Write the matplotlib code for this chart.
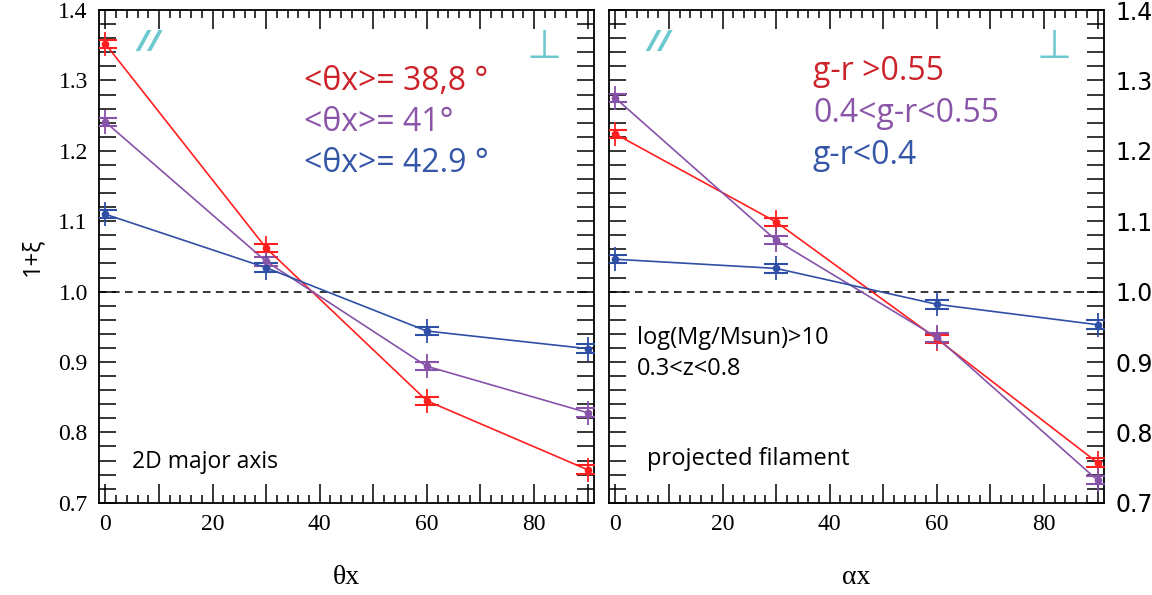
import matplotlib
matplotlib.use('Agg')
import matplotlib.pyplot as plt
import matplotlib.ticker as ticker
import numpy as np

# angle bins
angles = [0, 30, 60, 90]

# left panel: 2D major axis, split by mean theta
left_red = [1.352, 1.062, 0.845, 0.747]
left_purple = [1.241, 1.043, 0.894, 0.828]
left_blue = [1.110, 1.034, 0.944, 0.919]

# right panel: projected filament, split by colour g-r
right_red = [1.224, 1.099, 0.933, 0.757]
right_purple = [1.275, 1.073, 0.935, 0.732]
right_blue = [1.046, 1.033, 0.982, 0.953]

left_labels = ['<θx>= 38,8 °', '<θx>= 41°', '<θx>= 42.9 °']
right_labels = ['g-r >0.55', '0.4<g-r<0.55', 'g-r<0.4']

line_cols = ['#ff1f1f', '#8752a8', '#2f4fa6']
text_cols = ['#cc2229', '#8a55a8', '#3456a6']
cyan = '#6cc9cf'

sans = ['Open Sans', 'DejaVu Sans']
serif = 'Liberation Serif'

fig = plt.figure(figsize=(11.52, 5.95), dpi=100)
ax1 = fig.add_axes([0.0859, 0.155, 0.4297, 0.828])
ax2 = fig.add_axes([0.5286, 0.155, 0.4297, 0.828])


def draw_panel(ax, series):
    for y, c in zip(series, line_cols):
        ax.errorbar(angles, y, yerr=0.017, fmt='none', ecolor=c, elinewidth=1.3, zorder=3)
        ax.errorbar(angles, y, yerr=0.006, fmt='none', ecolor=c, elinewidth=0,
                    capsize=8.5, capthick=1.5, zorder=3)
        ax.plot(angles, y, '-o', color=c, lw=1.2, ms=4.5, zorder=4)
    ax.axhline(1.0, color='black', ls=(0, (5, 3.5)), lw=1.1, zorder=2)
    ax.set_xlim(-1.2, 91.2)
    ax.set_ylim(0.7, 1.4)
    ax.xaxis.set_major_locator(ticker.MultipleLocator(10))
    ax.xaxis.set_minor_locator(ticker.MultipleLocator(2))
    ax.xaxis.set_major_formatter(ticker.FuncFormatter(
        lambda v, p: '%d' % v if int(round(v)) % 20 == 0 else ''))
    ax.yaxis.set_major_locator(ticker.MultipleLocator(0.1))
    ax.yaxis.set_minor_locator(ticker.MultipleLocator(0.02))
    ax.yaxis.set_major_formatter(ticker.FormatStrFormatter('%.1f'))
    ax.tick_params(which='both', direction='in', top=True, right=True, width=1.1,
                   labelsize=17, pad=8)
    ax.tick_params(axis='x', which='major', length=13.5)
    ax.tick_params(axis='x', which='minor', length=6)
    ax.tick_params(axis='y', which='both', length=12.5)
    for lab in ax.get_xticklabels() + ax.get_yticklabels():
        lab.set_family(serif)
    for s in ax.spines.values():
        s.set_linewidth(1.3)
    # parallel / perpendicular markers
    ax.text(0.10, 0.932, '//', transform=ax.transAxes, color=cyan, fontsize=21,
            fontweight='bold', style='italic', family=sans, ha='center', va='center')
    ax.text(0.9, 0.925, '⊥', transform=ax.transAxes, color=cyan, fontsize=29,
            family='DejaVu Sans', ha='center', va='center')


draw_panel(ax1, [left_red, left_purple, left_blue])
draw_panel(ax2, [right_red, right_purple, right_blue])

ax2.tick_params(axis='y', labelleft=False, labelright=True)

ax1.set_xlabel('θx', family=serif, fontsize=20, labelpad=22)
ax2.set_xlabel('αx', family=serif, fontsize=20, labelpad=22)
ax1.set_ylabel('1+ξ', family=sans, fontsize=17, labelpad=10)

for i, (t, c) in enumerate(zip(left_labels, text_cols)):
    ax1.text(0.415, 0.838 - i * 0.083, t, transform=ax1.transAxes, color=c,
             fontsize=23, family=sans, va='baseline')
for i, (t, c) in enumerate(zip(right_labels, text_cols)):
    ax2.text(0.412, 0.858 - i * 0.085, t, transform=ax2.transAxes, color=c,
             fontsize=23, family=sans, va='baseline')

ax1.text(0.067, 0.07, '2D major axis', transform=ax1.transAxes, fontsize=16.5,
         family=sans, va='baseline')
ax2.text(0.076, 0.077, 'projected filament', transform=ax2.transAxes, fontsize=17,
         family=sans, va='baseline')
ax2.text(0.057, 0.322, 'log(Mg/Msun)>10', transform=ax2.transAxes, fontsize=17,
         family=sans, va='baseline')
ax2.text(0.057, 0.26, '0.3<z<0.8', transform=ax2.transAxes, fontsize=17,
         family=sans, va='baseline')

fig.savefig('out.png', dpi=100)
